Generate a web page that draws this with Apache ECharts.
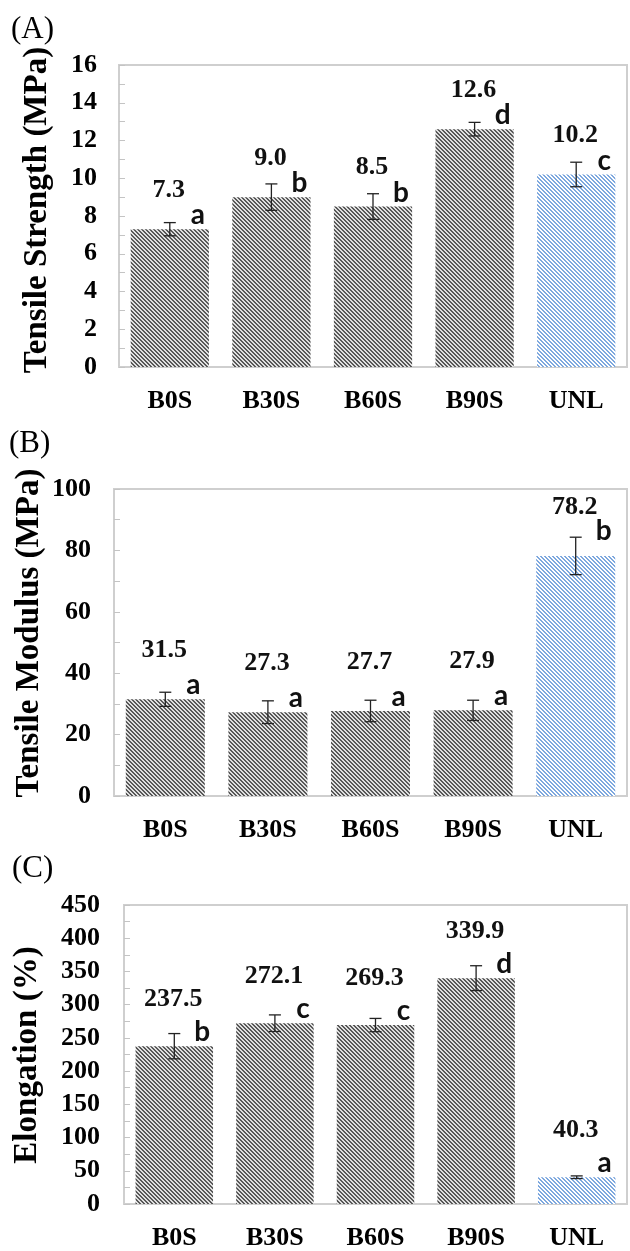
<!DOCTYPE html>
<html>
<head>
<meta charset="utf-8">
<script src="https://cdn.jsdelivr.net/npm/echarts@6/dist/echarts.min.js"></script>
<style>
html,body{margin:0;padding:0;background:#fff;}
#main{width:630px;height:1251px;}
</style>
</head>
<body>
<div id="main"></div>
<script>
// ---- data ----
const categories = ['B0S', 'B30S', 'B60S', 'B90S', 'UNL'];

const strengthValues = [7.3, 9.0, 8.5, 12.6, 10.2];
const strengthErrors = [0.35, 0.7, 0.68, 0.36, 0.65];
const strengthLetters = ['a', 'b', 'b', 'd', 'c'];
const strengthTicks = { min: 0, max: 16, interval: 2 };

const modulusValues = [31.5, 27.3, 27.7, 27.9, 78.2];
const modulusErrors = [2.3, 3.7, 3.5, 3.3, 6.1];
const modulusLetters = ['a', 'a', 'a', 'a', 'b'];
const modulusTicks = { min: 0, max: 100, interval: 20 };

const elongValues = [237.5, 272.1, 269.3, 339.9, 40.3];
const elongErrors = [19, 12.5, 10, 18.7, 2];
const elongLetters = ['b', 'c', 'c', 'd', 'a'];
const elongTicks = { min: 0, max: 450, interval: 50 };

const panelTitles = ['(A)', '(B)', '(C)'];
const axisTitles = ['Tensile Strength (MPa)', 'Tensile Modulus (MPa)', 'Elongation (%)'];

// ---- hatch patterns ----
function hatch(dark, light) {
  const c = document.createElement('canvas');
  c.width = 4; c.height = 4;
  const ctx = c.getContext('2d');
  for (let y = 0; y < 4; y++) {
    for (let x = 0; x < 4; x++) {
      ctx.fillStyle = (((x - y) % 4 + 4) % 4) < 2 ? dark : light;
      ctx.fillRect(x, y, 1, 1);
    }
  }
  return { image: c, repeat: 'repeat' };
}
const grayHatch = hatch('#585858', '#e0e0e0');
const blueHatch = hatch('#7ea8de', '#ffffff');

const serif = 'Liberation Serif';
const sans = 'Lato';

const panels = [
  { values: strengthValues, errors: strengthErrors, letters: strengthLetters, ticks: strengthTicks,
    grid: { left: 119, top: 65, height: 302 }, labelMargin: 22, valOffset: 39 },
  { values: modulusValues, errors: modulusErrors, letters: modulusLetters, ticks: modulusTicks,
    grid: { left: 114, top: 489, height: 307 }, labelMargin: 23, valOffset: 49 },
  { values: elongValues, errors: elongErrors, letters: elongLetters, ticks: elongTicks,
    grid: { left: 124, top: 905, height: 301 }, labelMargin: 24, valOffset: 47 }
];

const grids = [], xAxes = [], yAxes = [], series = [];
panels.forEach((p, k) => {
  grids.push({ left: p.grid.left, top: p.grid.top, height: p.grid.height, right: 3,
    show: true, borderColor: '#cfcfcf', borderWidth: 2, backgroundColor: 'transparent' });
  xAxes.push({ type: 'category', gridIndex: k, data: categories,
    axisLine: { show: false }, axisTick: { show: false },
    axisLabel: { color: '#000', fontFamily: serif, fontWeight: 'bold', fontSize: 26, margin: 21 } });
  yAxes.push({ type: 'value', gridIndex: k, min: p.ticks.min, max: p.ticks.max, interval: p.ticks.interval,
    splitLine: { show: false }, axisLine: { show: false },
    axisTick: { show: true, inside: true, length: 6, lineStyle: { color: '#c4c4c4', width: 1 } },
    minorTick: { show: true, splitNumber: 2, length: 6, lineStyle: { color: '#c4c4c4', width: 1 } },
    axisLabel: { color: '#000', fontFamily: serif, fontWeight: 'bold', fontSize: 26, margin: p.labelMargin } });
  series.push({
    type: 'bar', xAxisIndex: k, yAxisIndex: k, barWidth: '77%',
    data: p.values.map((v, i) => ({ value: v, itemStyle: { color: i === 4 ? blueHatch : grayHatch } })),
    silent: true, animation: false
  });
  series.push({
    type: 'custom', xAxisIndex: k, yAxisIndex: k, z: 5, animation: false, silent: true,
    data: p.values.map((v, i) => [i, v, p.errors[i]]),
    encode: { x: 0, y: 1 },
    renderItem: function (params, api) {
      const i = api.value(0), v = api.value(1), e = api.value(2);
      const t = api.coord([i, v + e]);
      const b = api.coord([i, v - e]);
      const c = api.coord([i, v]);
      const cap = 6;
      const errPx = c[1] - t[1];
      const letterOff = errPx > 15 ? errPx + 6 : 14;
      const st = { stroke: '#222', lineWidth: 1.3 };
      return {
        type: 'group',
        children: [
          { type: 'line', shape: { x1: t[0], y1: t[1], x2: b[0], y2: b[1] }, style: st },
          { type: 'line', shape: { x1: t[0] - cap, y1: t[1], x2: t[0] + cap, y2: t[1] }, style: st },
          { type: 'line', shape: { x1: b[0] - cap, y1: b[1], x2: b[0] + cap, y2: b[1] }, style: st },
          { type: 'text', x: c[0] - 1, y: c[1] - p.valOffset,
            style: { text: v.toFixed(1), fill: '#111', font: 'bold 26px "' + serif + '"', align: 'center', verticalAlign: 'middle' } },
          { type: 'text', x: c[0] + 28, y: c[1] - letterOff,
            style: { text: p.letters[params.dataIndex], fill: '#111', font: 'bold 28px "' + sans + '"', align: 'center', verticalAlign: 'middle' } }
        ]
      };
    }
  });
});

const graphics = [
  { type: 'text', left: 11, top: 14, style: { text: panelTitles[0], fill: '#000', font: '31px "' + serif + '"' } },
  { type: 'text', left: 9, top: 428, style: { text: panelTitles[1], fill: '#000', font: '31px "' + serif + '"' } },
  { type: 'text', left: 12, top: 853, style: { text: panelTitles[2], fill: '#000', font: '31px "' + serif + '"' } },
  { type: 'text', x: 37, y: 210, rotation: Math.PI / 2,
    style: { text: axisTitles[0], fill: '#000', font: 'bold 33px "' + serif + '"', align: 'center', verticalAlign: 'middle' } },
  { type: 'text', x: 29, y: 633, rotation: Math.PI / 2,
    style: { text: axisTitles[1], fill: '#000', font: 'bold 33px "' + serif + '"', align: 'center', verticalAlign: 'middle' } },
  { type: 'text', x: 27, y: 1055, rotation: Math.PI / 2,
    style: { text: axisTitles[2], fill: '#000', font: 'bold 33px "' + serif + '"', align: 'center', verticalAlign: 'middle' } }
];

const chart = echarts.init(document.getElementById('main'), null, { renderer: 'canvas' });
chart.setOption({
  animation: false,
  backgroundColor: '#fff',
  grid: grids, xAxis: xAxes, yAxis: yAxes, series: series,
  graphic: graphics
});
</script>
</body>
</html>
